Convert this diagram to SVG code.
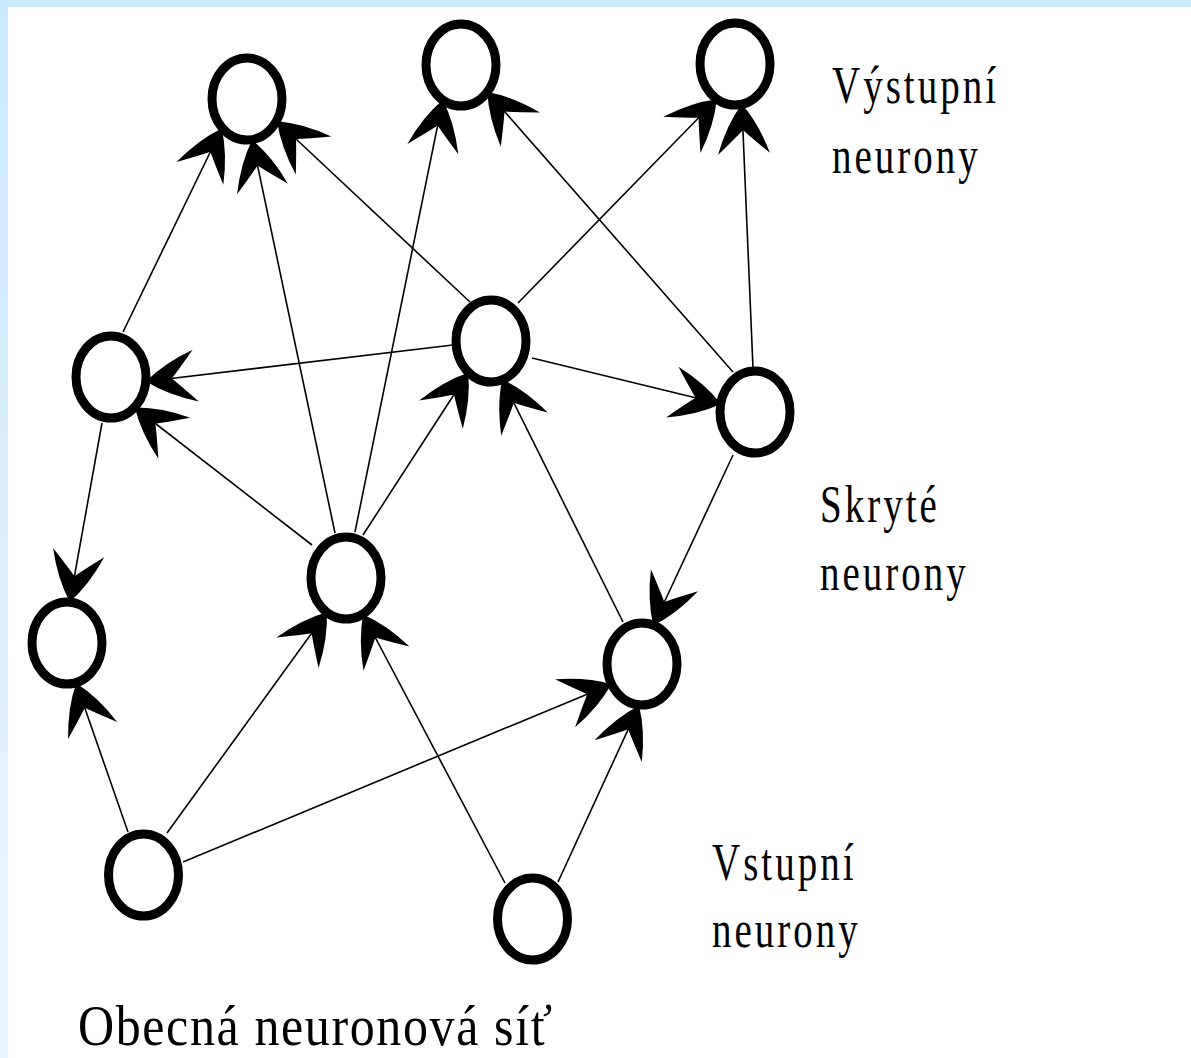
<svg xmlns="http://www.w3.org/2000/svg" width="1191" height="1058" viewBox="0 0 1191 1058">
<style>
.node ellipse{fill:#fff;stroke:#000;stroke-width:9}
.edge{stroke:#000;stroke-width:1.6;fill:none;marker-end:url(#barb)}
.lbl{font-family:"Liberation Serif","Times New Roman",serif;font-size:39px;letter-spacing:3px;fill:#000}
.cap{font-family:"Liberation Serif","Times New Roman",serif;font-size:50px;fill:#000}
</style>
<defs>
<linearGradient id="leftband" x1="0" y1="0" x2="0" y2="1">
<stop offset="0" stop-color="#cce9fb"/>
<stop offset="1" stop-color="#eaf6ff"/>
</linearGradient>
<marker id="barb" markerUnits="userSpaceOnUse" viewBox="-50 -30 60 60" refX="0" refY="0" markerWidth="60" markerHeight="60" orient="auto" overflow="visible">
<path d="M4,0 Q-16,-16 -46,-26 Q-30,-8 -22,0 Q-30,8 -46,26 Q-16,16 4,0 Z" fill="#000"/>
</marker>
</defs>
<rect x="0" y="0" width="1191" height="1058" fill="#fff"/>
<rect x="0" y="0" width="8" height="1058" fill="url(#leftband)"/>
<rect x="0" y="0" width="1191" height="7" fill="#cce9fb"/>

<g id="connectors">
<path class="edge" d="M123,332 L220,132"/>
<path class="edge" d="M335,533 L253,144"/>
<path class="edge" d="M470,302 L280,124"/>
<path class="edge" d="M355,532 L442,104"/>
<path class="edge" d="M733,372 L490,95"/>
<path class="edge" d="M518,303 L714,102"/>
<path class="edge" d="M753,368 L742,108"/>
<path class="edge" d="M453,345 L150,381"/>
<path class="edge" d="M312,545 L138,410"/>
<path class="edge" d="M102,423 L70.5,598"/>
<path class="edge" d="M532,358 L717,403"/>
<path class="edge" d="M363,535 L466,376"/>
<path class="edge" d="M623,622 L504,383"/>
<path class="edge" d="M733,455 L655,622"/>
<path class="edge" d="M128,832 L77.5,687"/>
<path class="edge" d="M167,833 L324.5,615.5"/>
<path class="edge" d="M183,862 L607.6,685.7"/>
<path class="edge" d="M505,883 L365,618"/>
<path class="edge" d="M558,882 L637.4,709.3"/>
</g>

<g id="out1" class="node"><ellipse cx="247" cy="99" rx="35" ry="41"/></g>
<g id="out2" class="node"><ellipse cx="461" cy="65" rx="35" ry="41"/></g>
<g id="out3" class="node"><ellipse cx="735" cy="64" rx="35" ry="41"/></g>
<g id="hid1" class="node"><ellipse cx="111" cy="377" rx="35" ry="41"/></g>
<g id="hid2" class="node"><ellipse cx="491" cy="341" rx="35" ry="41"/></g>
<g id="hid3" class="node"><ellipse cx="755" cy="412" rx="35" ry="41"/></g>
<g id="hid4" class="node"><ellipse cx="346" cy="578" rx="35" ry="41"/></g>
<g id="hid5" class="node"><ellipse cx="67" cy="643" rx="35" ry="41"/></g>
<g id="hid6" class="node"><ellipse cx="642" cy="664" rx="35" ry="41"/></g>
<g id="in1" class="node"><ellipse cx="143.5" cy="875" rx="35" ry="41"/></g>
<g id="in2" class="node"><ellipse cx="532.5" cy="919" rx="35" ry="41"/></g>

<g id="label-output">
<text class="lbl" transform="translate(832,103) scale(1,1.33)">Výstupní</text>
<text class="lbl" transform="translate(832,173) scale(1,1.33)">neurony</text>
</g>
<g id="label-hidden">
<text class="lbl" transform="translate(820,522) scale(1,1.33)">Skryté</text>
<text class="lbl" transform="translate(820,590) scale(1,1.33)">neurony</text>
</g>
<g id="label-input">
<text class="lbl" transform="translate(712,880) scale(1,1.33)">Vstupní</text>
<text class="lbl" transform="translate(712,947) scale(1,1.33)">neurony</text>
</g>
<g id="caption">
<text class="cap" transform="translate(78,1045) scale(1,1.16)" textLength="474" lengthAdjust="spacing">Obecná neuronová síť</text>
</g>
</svg>
